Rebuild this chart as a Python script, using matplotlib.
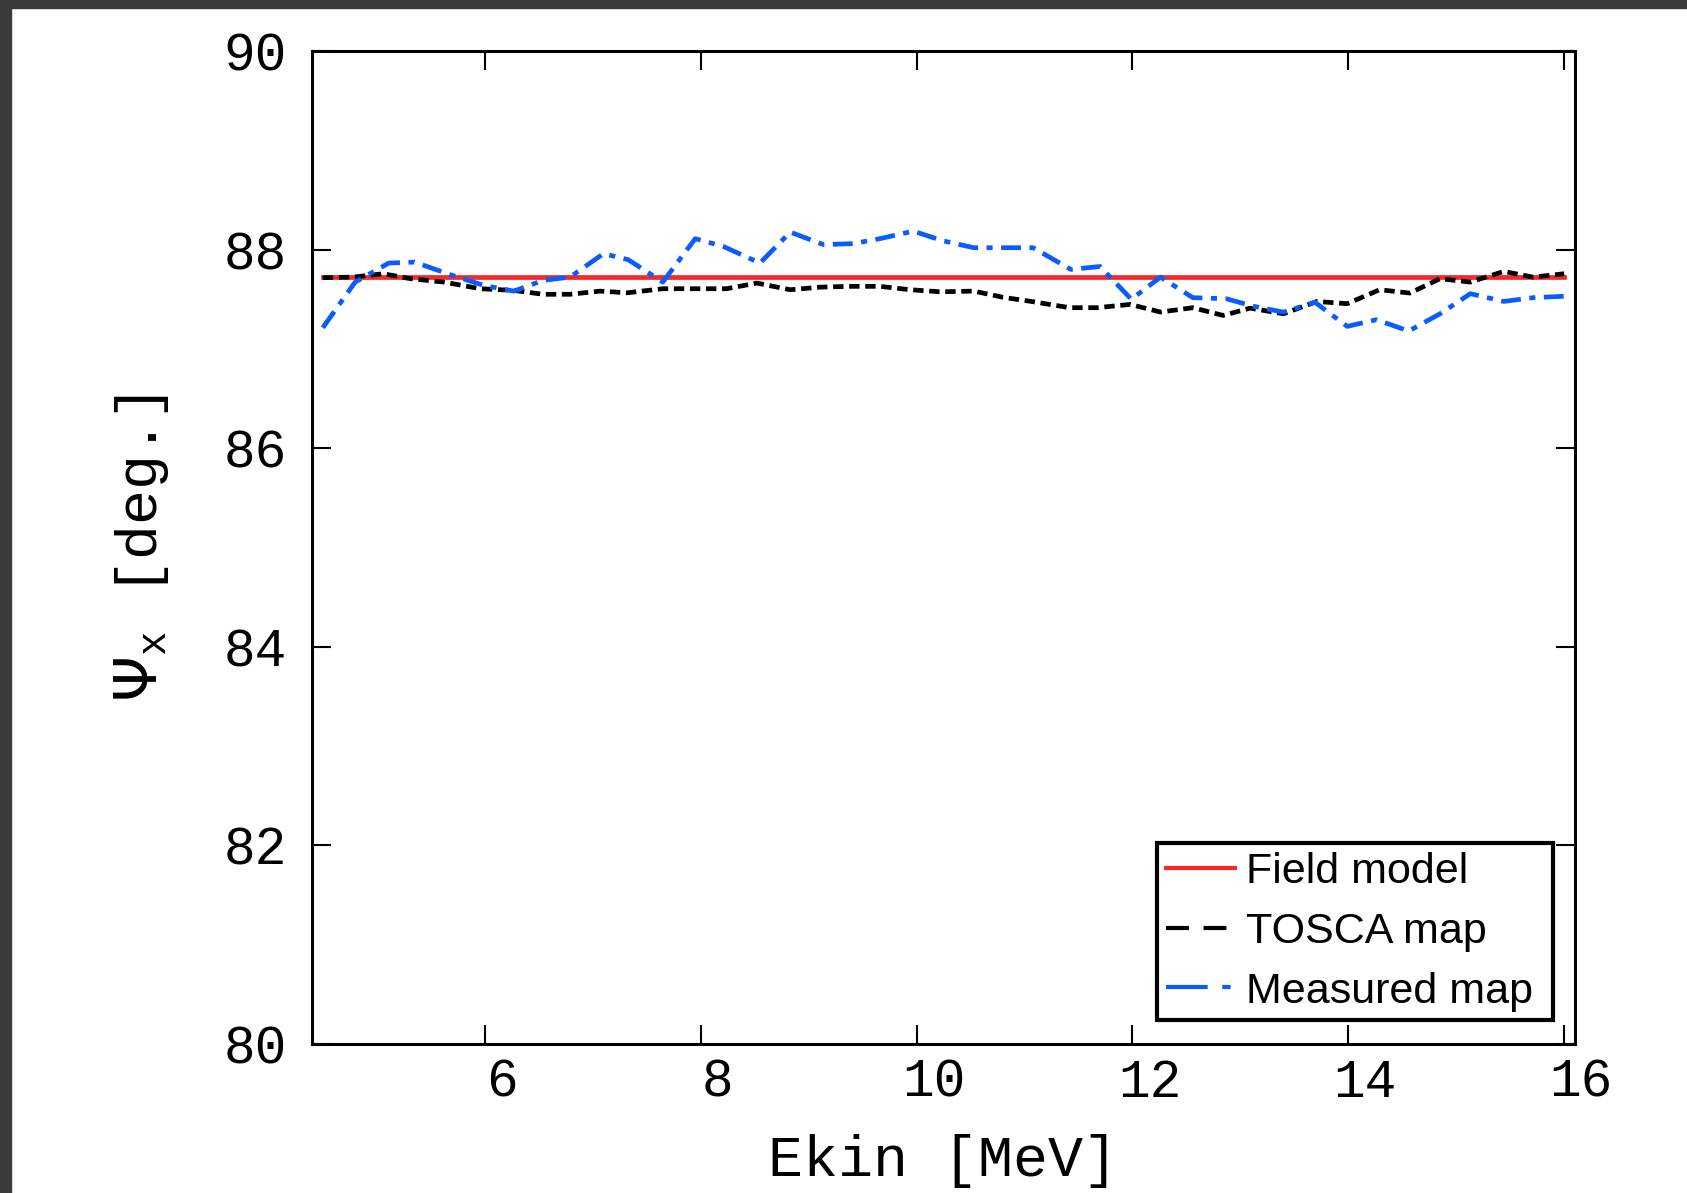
# Phase advance Psi_x vs kinetic energy: field model, TOSCA map, measured map
import matplotlib
matplotlib.use("Agg")
import matplotlib.pyplot as plt
from matplotlib.lines import Line2D
from matplotlib.patches import Rectangle
from matplotlib.transforms import ScaledTranslation

# Data
ekin_field = [4.5, 16.0]
psi_field = [87.725, 87.725]

ekin_tosca = [4.5, 4.78, 5.06, 5.31, 5.62, 5.96, 6.27, 6.54, 6.79, 7.07, 7.32,
              7.65, 7.95, 8.24, 8.52, 8.83, 9.11, 9.38, 9.66, 9.94, 10.22, 10.53,
              10.80, 11.05, 11.42, 11.67, 11.98, 12.26, 12.56, 12.84, 13.09, 13.40,
              13.71, 13.99, 14.29, 14.57, 14.85, 15.13, 15.44, 15.71, 16.0]
psi_tosca = [87.717, 87.723, 87.757, 87.707, 87.673, 87.606, 87.589, 87.55, 87.55,
             87.582, 87.565, 87.606, 87.606, 87.606, 87.663, 87.596, 87.622, 87.63,
             87.63, 87.596, 87.575, 87.582, 87.52, 87.48, 87.415, 87.415, 87.448,
             87.371, 87.415, 87.337, 87.41, 87.354, 87.478, 87.455, 87.596, 87.562,
             87.707, 87.673, 87.78, 87.723, 87.757]

ekin_meas = [4.5, 4.80, 5.11, 5.35, 5.68, 5.99, 6.27, 6.54, 6.79, 7.10, 7.33,
             7.65, 7.95, 8.21, 8.55, 8.83, 9.14, 9.41, 9.66, 9.97, 10.24, 10.53,
             10.80, 11.08, 11.43, 11.70, 11.99, 12.26, 12.56, 12.87, 13.12, 13.40,
             13.69, 13.99, 14.26, 14.56, 14.85, 15.13, 15.44, 15.71, 16.0]
psi_meas = [87.213, 87.673, 87.864, 87.874, 87.748, 87.64, 87.582, 87.69, 87.723,
            87.959, 87.898, 87.673, 88.11, 88.032, 87.864, 88.176, 88.05, 88.06,
            88.11, 88.186, 88.09, 88.019, 88.019, 88.019, 87.80, 87.83, 87.50,
            87.723, 87.516, 87.505, 87.43, 87.37, 87.47, 87.227, 87.294, 87.18,
            87.354, 87.556, 87.478, 87.516, 87.53]

xticks = [6, 8, 10, 12, 14, 16]
yticks = [80, 82, 84, 86, 88, 90]

red = "#f42a2a"
blue = "#0a5cff"
lw = 3.4

fig = plt.figure(figsize=(16.87, 11.93), dpi=100)
# slide background strips at top and left
fig.patches.append(Rectangle((0, 1 - 8 / 1193), 1, 8 / 1193, transform=fig.transFigure,
                             color="#3b3b3d", zorder=-10))
fig.patches.append(Rectangle((0, 0), 11 / 1687, 1, transform=fig.transFigure,
                             color="#3b3b3d", zorder=-10))

ax = fig.add_axes([312 / 1687, 1 - 1044 / 1193, (1575 - 312) / 1687, (1044 - 51) / 1193])

ax.plot(ekin_field, psi_field, color=red, lw=lw, zorder=3)
ax.plot(ekin_tosca, psi_tosca, color="black", lw=lw, dashes=(2.2, 1.2), zorder=4)
ax.plot(ekin_meas, psi_meas, color=blue, lw=lw, dashes=(4.2, 1.8, 1.3, 1.8), zorder=5)

ax.set_xlim(4.40, 16.1)
ax.set_ylim(80, 90)
ax.set_xticks(xticks)
ax.set_yticks(yticks)

mono = "Liberation Mono"
ax.tick_params(direction="in", length=14, width=1.5, top=True, right=True,
               labelsize=38)
ax.tick_params(axis="x", pad=10)
ax.tick_params(axis="y", pad=18)
for lab in ax.get_xticklabels() + ax.get_yticklabels():
    lab.set_family(mono)
for lab in ax.get_xticklabels():
    lab.set_transform(lab.get_transform() + ScaledTranslation(0.17, 0, fig.dpi_scale_trans))
for s in ax.spines.values():
    s.set_linewidth(2.2)

ax.set_xlabel("Ekin [MeV]", family=mono, fontsize=42, labelpad=19)
ax.set_ylabel(r"$\Psi_\mathregular{x}$ [deg.]", family=mono, fontsize=42, labelpad=38)

handles = [
    Line2D([], [], color=red, lw=3.0),
    Line2D([], [], color="black", lw=3.0, dashes=(5.5, 3.5)),
    Line2D([], [], color=blue, lw=3.0, dashes=(10, 3.5, 2, 6)),
]
leg = ax.legend(handles, ["Field model", "TOSCA map", "Measured map "],
                loc="lower right", bbox_to_anchor=(0.9828, 0.024),
                prop={"family": "Liberation Sans", "size": 31},
                fancybox=False, framealpha=1, edgecolor="black",
                handlelength=1.6, handletextpad=0.25, borderpad=0.2,
                labelspacing=0.46, borderaxespad=0)
leg.get_frame().set_linewidth(3.0)

fig.savefig("out.png", dpi=100)
